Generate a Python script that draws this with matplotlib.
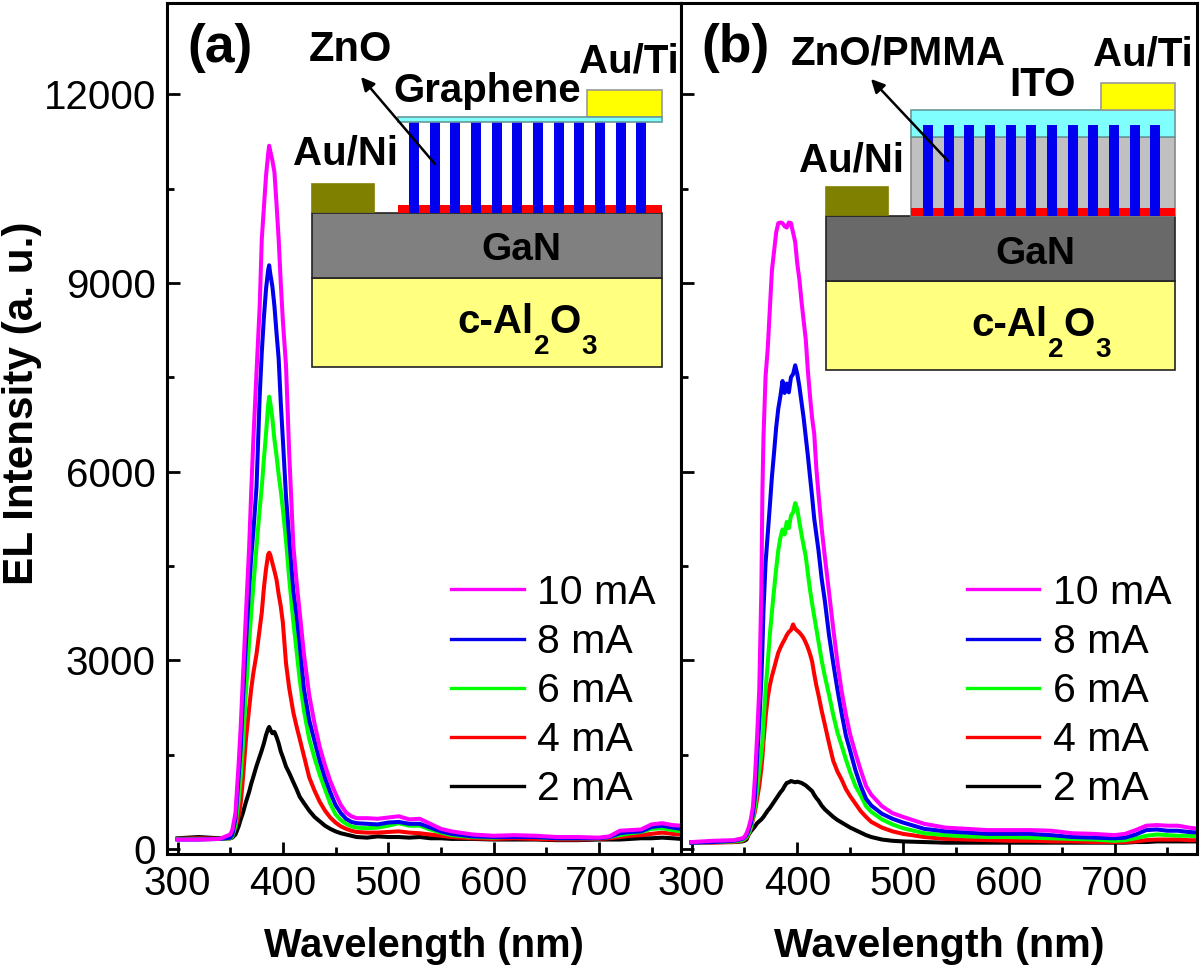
import matplotlib
matplotlib.use('Agg')
import matplotlib.pyplot as plt
from matplotlib.patches import Rectangle
from matplotlib.ticker import MultipleLocator

plt.rcParams['font.family'] = ['Liberation Sans', 'DejaVu Sans']

# wavelength grids (nm)
wl_a = [300, 320, 340, 350, 352, 355, 358, 360, 362, 365,
        368, 370, 372, 375, 378, 380, 382, 384, 386, 387,
        388, 390, 392, 394, 396, 398, 400, 403, 406, 410,
        413, 416, 420, 425, 430, 435, 440, 445, 450, 455,
        460, 465, 470, 480, 490, 500, 510, 520, 530, 540,
        550, 560, 580, 600, 620, 640, 660, 680, 700, 710,
        720, 730, 740, 750, 760, 770, 778]
wl_b = [300, 320, 340, 348, 350, 352, 354, 356, 358, 360,
        362, 364, 366, 367, 368, 370, 372, 374, 376, 378,
        380, 382, 384, 386, 388, 390, 392, 394, 396, 398,
        400, 402, 404, 406, 408, 410, 412, 414, 416, 418,
        420, 423, 426, 430, 434, 438, 442, 446, 450, 455,
        460, 465, 470, 480, 490, 500, 520, 540, 560, 580,
        600, 620, 640, 660, 680, 700, 710, 720, 730, 740,
        750, 760, 770, 780]

# panel (a) spectra
a_10 = [150, 150, 160, 230, 300, 570, 1350, 1950, 2690, 3760,
        4810, 5700, 6510, 7580, 8630, 9700, 10200, 10700, 11050, 11180,
        11100, 10950, 10760, 10250, 9700, 9000, 8400, 7680, 6300, 4810,
        4250, 3760, 3100, 2450, 2000, 1620, 1330, 1080, 880, 700,
        580, 520, 490, 490, 480, 500, 520, 470, 480, 400,
        320, 280, 230, 210, 220, 210, 190, 190, 180, 200,
        290, 300, 310, 390, 410, 380, 370]
a_8 = [150, 150, 160, 180, 230, 480, 1150, 1620, 2350, 3300,
       4150, 4650, 5050, 5760, 7200, 7900, 8450, 8900, 9200, 9280,
       9150, 8950, 8630, 8200, 7800, 7100, 6510, 5600, 4950, 4100,
       3720, 3250, 2550, 2050, 1720, 1400, 1130, 900, 700, 570,
       480, 430, 410, 400, 390, 420, 430, 400, 400, 340,
       280, 240, 200, 190, 190, 190, 170, 170, 170, 190,
       250, 270, 280, 350, 370, 340, 320]
a_6 = [160, 160, 160, 170, 200, 370, 780, 1150, 1620, 2500,
       3300, 3760, 4180, 4810, 5400, 5760, 6200, 6600, 7050, 7190,
       7100, 6850, 6510, 6250, 5950, 5700, 5400, 4900, 4300, 3600,
       3150, 2690, 2200, 1750, 1450, 1180, 950, 720, 550, 460,
       400, 360, 340, 330, 340, 370, 410, 370, 370, 310,
       260, 220, 190, 180, 200, 190, 170, 170, 170, 190,
       220, 250, 270, 320, 330, 300, 280]
a_4 = [160, 170, 160, 170, 230, 350, 520, 730, 1100, 1750,
       2240, 2550, 2800, 3100, 3500, 3760, 4150, 4450, 4680, 4710,
       4680, 4550, 4420, 4280, 4050, 3860, 3600, 2950, 2560, 2165,
       1950, 1750, 1480, 1140, 930, 750, 610, 500, 420, 360,
       320, 290, 270, 260, 260, 270, 280, 260, 250, 230,
       210, 190, 170, 160, 170, 160, 150, 150, 160, 170,
       190, 210, 220, 240, 260, 240, 230]
a_2 = [170, 190, 170, 170, 180, 230, 360, 470, 570, 750,
       910, 1040, 1150, 1320, 1470, 1570, 1680, 1810, 1910, 1940,
       1900, 1840, 1860, 1780, 1680, 1550, 1460, 1310, 1210, 1060,
       950, 830, 730, 610, 510, 440, 370, 320, 280, 250,
       230, 210, 190, 180, 200, 190, 190, 180, 190, 170,
       170, 160, 160, 150, 150, 150, 140, 140, 150, 150,
       150, 160, 170, 170, 180, 170, 160]

# panel (b) spectra
b_10 = [110, 130, 140, 170, 190, 250, 340, 470, 670, 1150,
        1800, 2530, 4120, 5700, 6550, 7520, 7950, 8580, 9200, 9500,
        9800, 9950, 9960, 9950, 9900, 9880, 9960, 9950, 9800, 9650,
        9300, 9050, 8700, 8400, 8100, 7600, 7200, 6850, 6600, 6050,
        5650, 5100, 4650, 4080, 3500, 2960, 2500, 2130, 1820, 1520,
        1250, 1000, 860, 680, 570, 510, 400, 340, 320, 300,
        300, 300, 290, 250, 240, 220, 240, 300, 370, 380,
        370, 370, 340, 320]
b_8 = [100, 110, 130, 160, 180, 220, 300, 400, 560, 850,
       1460, 2000, 2700, 3200, 3800, 4550, 5000, 5450, 5920, 6300,
       6700, 7000, 7200, 7440, 7250, 7400, 7260, 7500, 7550, 7690,
       7550, 7350, 7100, 6850, 6550, 6250, 5920, 5600, 5250, 5000,
       4750, 4300, 3950, 3400, 2950, 2530, 2150, 1800, 1560, 1250,
       1000, 800, 690, 560, 480, 420, 320, 280, 260, 240,
       240, 240, 220, 190, 180, 170, 180, 230, 300, 310,
       290, 290, 270, 260]
b_6 = [100, 110, 120, 140, 160, 190, 250, 340, 500, 670,
       950, 1250, 1520, 1700, 2000, 2530, 2950, 3400, 3770, 4120,
       4450, 4750, 4950, 5080, 5000, 5200, 5100, 5300, 5350, 5500,
       5400, 5190, 5000, 4820, 4650, 4380, 4120, 3900, 3700, 3500,
       3300, 3000, 2750, 2450, 2130, 1850, 1640, 1420, 1220, 1000,
       850, 680, 590, 470, 390, 330, 250, 220, 200, 190,
       190, 180, 170, 160, 150, 130, 140, 170, 210, 230,
       220, 210, 210, 200]
b_4 = [100, 100, 110, 130, 150, 180, 240, 320, 470, 600,
       800, 1000, 1280, 1460, 1700, 2100, 2400, 2600, 2750, 2870,
       3000, 3120, 3200, 3270, 3330, 3400, 3450, 3480, 3570, 3500,
       3470, 3440, 3400, 3350, 3280, 3200, 3100, 2980, 2780, 2600,
       2450, 2200, 1980, 1680, 1400, 1230, 1100, 950, 840, 720,
       600, 510, 430, 340, 280, 240, 190, 160, 150, 140,
       130, 130, 120, 120, 110, 110, 110, 120, 140, 150,
       150, 150, 140, 140]
b_2 = [110, 110, 110, 120, 130, 150, 230, 280, 320, 360,
       410, 440, 470, 490, 510, 560, 610, 650, 700, 750,
       800, 850, 900, 940, 1000, 1050, 1060, 1080, 1070, 1060,
       1070, 1060, 1050, 1030, 1010, 980, 950, 920, 860, 810,
       770, 690, 630, 570, 510, 460, 420, 380, 340, 300,
       260, 220, 190, 150, 130, 120, 110, 100, 100, 100,
       100, 100, 100, 100, 100, 100, 100, 110, 110, 120,
       120, 120, 120, 120]

labels = ['10 mA', '8 mA', '6 mA', '4 mA', '2 mA']
colors = ['#ff00ff', '#0000ee', '#00ff00', '#ff0000', '#000000']

W, H = 1200, 969
fig = plt.figure(figsize=(W / 100, H / 100), dpi=100)


def make_axes(x0, x1, y0, y1):
    return fig.add_axes([x0 / W, 1 - y1 / H, (x1 - x0) / W, (y1 - y0) / H])


def style_panel(ax, series, wl, xlabel_size):
    # black goes down first so magenta ends up on top
    handles = []
    for s, c in zip(reversed(series), reversed(colors)):
        h, = ax.plot(wl, s, color=c, lw=2.9)
        handles.append(h)
    ax.set_xlim(290, 778)
    ax.set_ylim(-80, 13450)
    ax.xaxis.set_major_locator(MultipleLocator(100))
    ax.xaxis.set_minor_locator(MultipleLocator(50))
    ax.yaxis.set_major_locator(MultipleLocator(3000))
    ax.yaxis.set_minor_locator(MultipleLocator(1500))
    ax.tick_params(which='major', direction='in', length=9, width=2, labelsize=29, pad=8, top=False, right=False)
    ax.tick_params(which='minor', direction='in', length=5, width=2, top=False, right=False)
    for sp in ax.spines.values():
        sp.set_linewidth(2.2)
    ax.set_xlabel('Wavelength (nm)', fontsize=xlabel_size, fontweight='bold', labelpad=17)
    leg = ax.legend(handles[::-1], labels, frameon=False, fontsize=29.5, loc='lower right',
                    bbox_to_anchor=(0.95, 0.054), borderaxespad=0, borderpad=0,
                    handlelength=1.76, handletextpad=0.32, labelspacing=0.27)
    for line in leg.get_lines():
        line.set_linewidth(2.4)


ax_a = make_axes(167, 681, 3, 854)
style_panel(ax_a, [a_10, a_8, a_6, a_4, a_2], wl_a, 28.7)
ax_a.set_ylabel('EL Intensity (a. u.)', fontsize=30.4, fontweight='bold')
ax_a.yaxis.set_label_coords(-0.243, 0.53)

ax_b = make_axes(681, 1197, 3, 854)
style_panel(ax_b, [b_10, b_8, b_6, b_4, b_2], wl_b, 29.7)
ax_b.tick_params(axis='y', labelleft=False)

# device schematics, drawn on an overlay in picture pixels
ov = fig.add_axes([0, 0, 1, 1], zorder=5)
ov.set_xlim(0, W)
ov.set_ylim(H, 0)
ov.axis('off')


def box(x0, y0, x1, y1, fc, ec='#222222', lw=1.2):
    ov.add_patch(Rectangle((x0, y0), x1 - x0, y1 - y0, fc=fc, ec=ec, lw=lw))


def label(x, y, s, size=29):
    ov.text(x, y, s, fontsize=size, fontweight='bold', ha='center', va='center')


def arrow(x0, y0, x1, y1):
    ov.annotate('', xy=(x1, y1), xytext=(x0, y0),
                arrowprops=dict(arrowstyle='-|>', color='black', lw=1.8, mutation_scale=20, shrinkA=0, shrinkB=0))


def rods(x_first, top, bottom):
    for i in range(12):
        x = x_first + i * 20.65
        ov.add_patch(Rectangle((x, top), 10, bottom - top, fc='#0000ee', ec='none'))


def sapphire(x, y):
    # subscripts sit well below the baseline in the original
    for dx, dy, s, size in [(0, 0, 'c-Al', 29), (77, 21, '2', 20), (92, 0, 'O', 29), (124, 21, '3', 20)]:
        ov.text(x + dx, y + dy, s, fontsize=size, fontweight='bold', ha='left', va='baseline')


# (a)
box(312, 278, 662, 367, '#ffff80')
box(312, 213, 662, 278, '#808080')
box(312, 184, 374, 212, '#808000', ec='#808000')
ov.add_patch(Rectangle((398, 205), 264, 8, fc='#ff0000', ec='none'))
rods(409, 122, 213)
box(587, 90, 662, 117, '#ffff00', ec='#999999')
box(398, 117, 662, 122, '#80ffff', ec='#669999')
arrow(435, 164, 361, 77)
label(220, 48, '(a)', 38.5)
label(350, 50, 'ZnO', 30)
label(487, 91, 'Graphene')
label(629, 61, 'Au/Ti')
label(345, 153, 'Au/Ni')
label(521, 250, 'GaN', 28)
sapphire(457, 333)

# (b)
box(826, 281, 1175, 370, '#ffff80')
box(826, 216, 1175, 281, '#696969')
box(826, 187, 888, 215, '#808000', ec='#808000')
box(911, 137, 1175, 216, '#c0c0c0', ec='#888888')
box(911, 110, 1175, 137, '#80ffff', ec='#669999')
ov.add_patch(Rectangle((911, 208), 264, 8, fc='#ff0000', ec='none'))
rods(923, 125, 216)
box(1101, 83, 1175, 110, '#ffff00', ec='#999999')
arrow(948, 161, 871, 79)
label(735, 48, '(b)', 38.5)
label(898, 53, 'ZnO/PMMA')
label(1043, 85, 'ITO')
label(1143, 54, 'Au/Ti')
label(852, 160, 'Au/Ni')
label(1035, 254, 'GaN', 28)
sapphire(971, 336)

fig.savefig('out.png', dpi=100)
